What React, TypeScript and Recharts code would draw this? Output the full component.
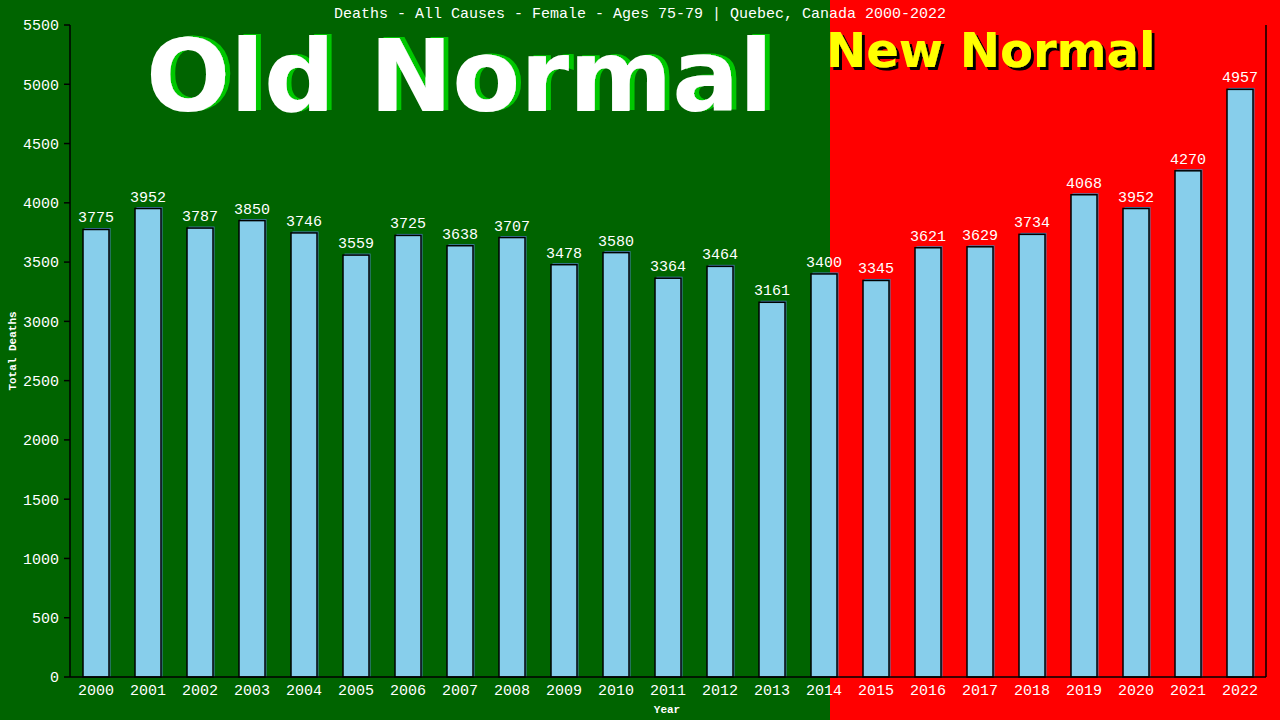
import React from 'react';
import { BarChart, Bar, XAxis, YAxis, LabelList } from 'recharts';

const years = ['2000','2001','2002','2003','2004','2005','2006','2007','2008','2009','2010','2011','2012','2013','2014','2015','2016','2017','2018','2019','2020','2021','2022'];
const deaths = [3775,3952,3787,3850,3746,3559,3725,3638,3707,3478,3580,3364,3464,3161,3400,3345,3621,3629,3734,4068,3952,4270,4957];
const yTicks = [0,500,1000,1500,2000,2500,3000,3500,4000,4500,5000,5500];

const data = years.map((y, i) => ({ year: y, deaths: deaths[i] }));

const MONO = '"Liberation Mono", "DejaVu Sans Mono", monospace';
const BIG = '"DejaVu Sans", Verdana, sans-serif';

const BarShape = (props: any) => {
  const { x, y, width, height } = props;
  if (height <= 0) return null;
  return (
    <g>
      <rect x={x + 1.5} y={y - 1.5} width={width} height={height + 1.5} fill="#4682B4" />
      <rect x={x} y={y} width={width} height={height} fill="#87CEEB" stroke="#000" strokeWidth={1.5} />
    </g>
  );
};

export default function App() {
  return (
    <div style={{ position: 'absolute', left: 0, top: 0, width: 1280, height: 720, overflow: 'hidden',
      background: 'linear-gradient(to right, #006400 0px, #006400 830px, #ff0000 830px, #ff0000 1280px)' }}>
      <svg width={1280} height={720} style={{ position: 'absolute', left: 0, top: 0 }}>
        <defs>
          <filter id="greenShadow" x="-5%" y="-20%" width="110%" height="140%">
            <feOffset in="SourceAlpha" dx={5} dy={-1} result="off" />
            <feFlood floodColor="#00C800" result="col" />
            <feComposite in="col" in2="off" operator="in" result="sh" />
            <feMerge>
              <feMergeNode in="sh" />
              <feMergeNode in="SourceGraphic" />
            </feMerge>
          </filter>
          <filter id="blackShadow" x="-5%" y="-20%" width="110%" height="140%">
            <feOffset in="SourceAlpha" dx={3} dy={3} result="off" />
            <feFlood floodColor="#000" result="col" />
            <feComposite in="col" in2="off" operator="in" result="sh" />
            <feMerge>
              <feMergeNode in="sh" />
              <feMergeNode in="SourceGraphic" />
            </feMerge>
          </filter>
        </defs>
        <text x={640} y={18} textAnchor="middle" fill="#fff" fontFamily={MONO} fontSize={15}>
          Deaths - All Causes - Female - Ages 75-79 | Quebec, Canada 2000-2022
        </text>
        <text x={146} y={111} fill="#fff" fontFamily={BIG} fontWeight="bold" fontSize={99} filter="url(#greenShadow)">Old Normal</text>
        <text x={826} y={67} fill="#ffff00" fontFamily={BIG} fontWeight="bold" fontSize={48} filter="url(#blackShadow)">New Normal</text>
        <text x={0} y={0} transform="translate(16,351) rotate(-90)" textAnchor="middle" fill="#fff" fontFamily={MONO} fontWeight="bold" fontSize={11}>Total Deaths</text>
        <text x={667} y={713} textAnchor="middle" fill="#fff" fontFamily={MONO} fontWeight="bold" fontSize={11}>Year</text>
      </svg>
      <div style={{ position: 'absolute', left: 0, top: 0 }}>
        <BarChart width={1280} height={720} data={data} margin={{ top: 25, right: 13, bottom: 13, left: 0 }} barSize={26}>
          <XAxis dataKey="year" stroke="#000" strokeWidth={1.5} tickLine={false} tickMargin={1} height={30} interval={0}
            tick={{ fill: '#fff', fontFamily: MONO, fontSize: 15 }} />
          <YAxis yAxisId="left" width={70} domain={[0, 5500]} ticks={yTicks} stroke="#000" strokeWidth={1.5} tickSize={6} tickMargin={5}
            tick={{ fill: '#fff', fontFamily: MONO, fontSize: 15 }} interval={0} />
          <YAxis yAxisId="right" orientation="right" width={1} domain={[0, 5500]} tick={false} tickLine={false} stroke="#000" strokeWidth={1.5} />
          <Bar yAxisId="left" dataKey="deaths" isAnimationActive={false} shape={BarShape}>
            <LabelList dataKey="deaths" position="top" offset={7} fill="#fff" fontFamily={MONO} fontSize={15} />
          </Bar>
        </BarChart>
      </div>
    </div>
  );
}
